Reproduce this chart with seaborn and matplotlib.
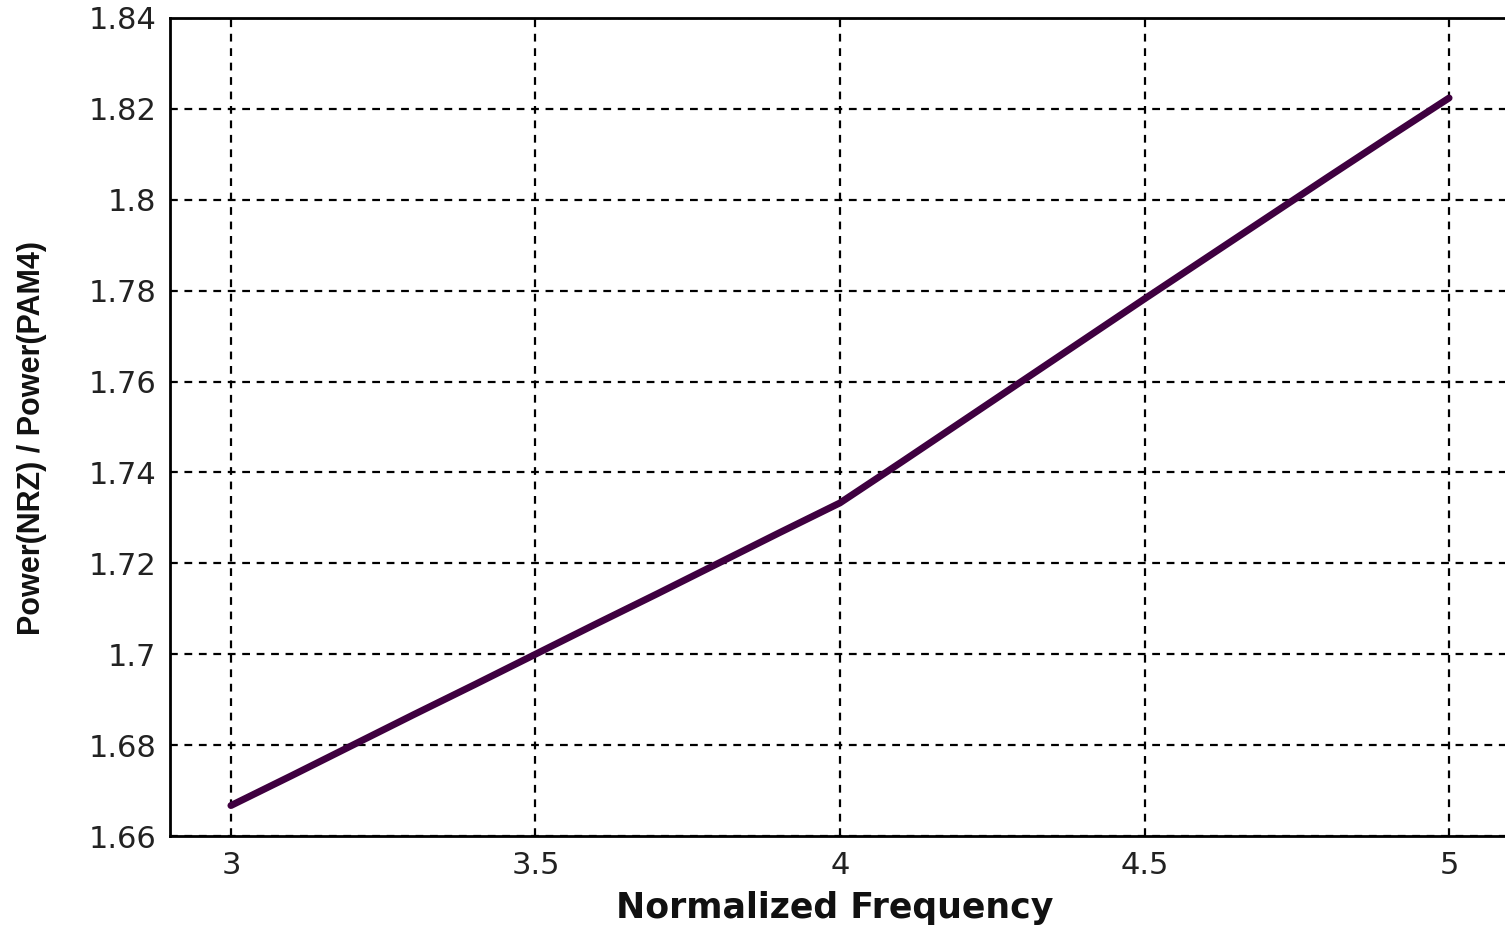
import matplotlib
matplotlib.use("Agg")
import matplotlib.pyplot as plt
import seaborn as sns
import pandas as pd

# Normalized frequency and the NRZ/PAM4 power ratio
freq = [3.0, 3.1, 3.2, 3.3, 3.4, 3.5, 3.6, 3.7, 3.8, 3.9, 4.0,
        4.1, 4.2, 4.3, 4.4, 4.5, 4.6, 4.7, 4.8, 4.9, 5.0]
ratio = [1.6667, 1.6733, 1.6800, 1.6867, 1.6933, 1.7000, 1.7067, 1.7133,
         1.7200, 1.7267, 1.7333, 1.7422, 1.7512, 1.7602, 1.7692, 1.7782,
         1.7871, 1.7960, 1.8049, 1.8137, 1.8224]
xticks = [3, 3.5, 4, 4.5, 5]
xticklabels = ["3", "3.5", "4", "4.5", "5"]
yticks = [1.66, 1.68, 1.70, 1.72, 1.74, 1.76, 1.78, 1.80, 1.82, 1.84]
yticklabels = ["1.66", "1.68", "1.7", "1.72", "1.74", "1.76", "1.78", "1.8", "1.82", "1.84"]

sns.set_style("white")
plt.rcParams["font.family"] = ["DejaVu Sans"]

df = pd.DataFrame({"freq": freq, "ratio": ratio})

fig = plt.figure(figsize=(15.05, 9.25), dpi=100)
ax = fig.add_axes([170 / 1505, 1 - 836 / 925, 1340 / 1505, (836 - 18) / 925])

sns.lineplot(data=df, x="freq", y="ratio", ax=ax, color="#3f0040",
             linewidth=5, zorder=3)

ax.set_xlim(2.9, 5.1)
ax.set_ylim(1.66, 1.84)
ax.set_xticks(xticks)
ax.set_xticklabels(xticklabels)
ax.set_yticks(yticks)
ax.set_yticklabels(yticklabels)

ax.grid(True, color="black", linestyle=(0, (3.5, 3)), linewidth=1.6)
ax.tick_params(axis="both", direction="in", length=7, width=1.6,
               labelsize=22, colors="black", pad=10)
ax.tick_params(axis="x", pad=11)
for t in ax.get_xticklabels() + ax.get_yticklabels():
    t.set_color("#222222")
for side in ["left", "bottom", "top", "right"]:
    ax.spines[side].set_color("black")
    ax.spines[side].set_linewidth(2)

ax.set_xlabel("Normalized Frequency", fontsize=25, fontweight="bold",
              family="DejaVu Sans", color="#111111")
ax.xaxis.set_label_coords(0.496, -0.067)
ax.set_ylabel("Power(NRZ) / Power(PAM4)", fontsize=22, fontweight="bold",
              family=["Liberation Sans Narrow", "Liberation Sans"],
              color="#111111")
ax.yaxis.set_label_coords(-0.092, 0.487)

fig.savefig("out.png", dpi=100)
